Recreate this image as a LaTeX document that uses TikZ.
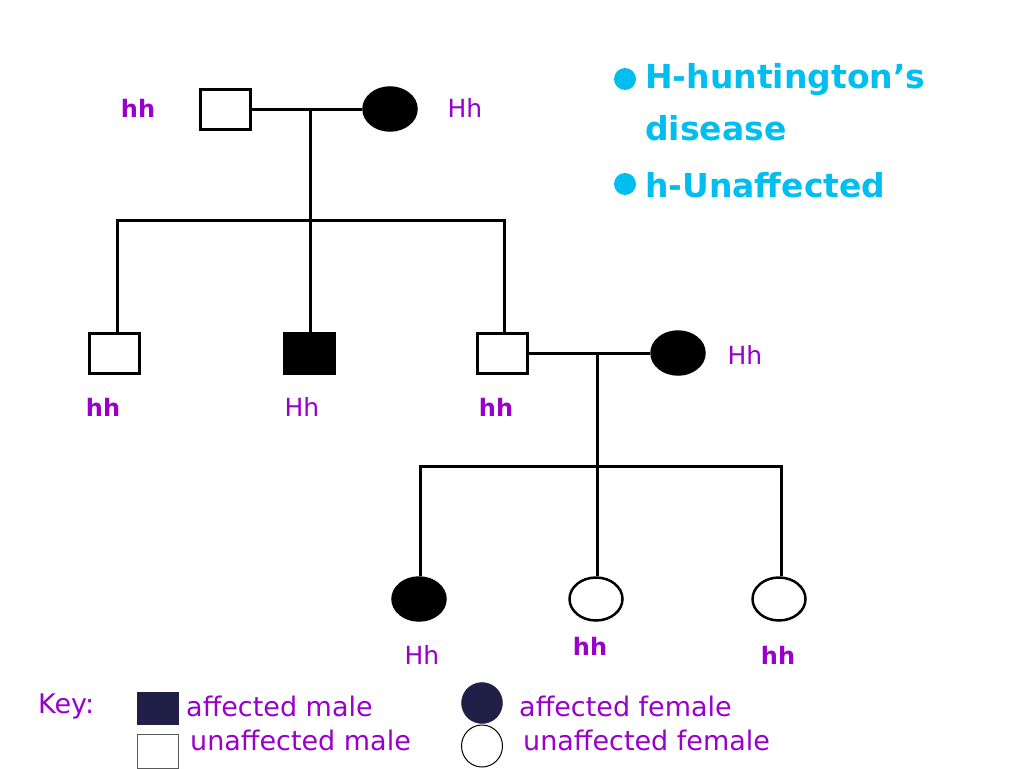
\documentclass[tikz,border=0pt]{standalone}
\usepackage{fontspec}
\setmainfont{DejaVu Sans}
\usetikzlibrary{shapes.geometric}
\definecolor{lbl}{RGB}{153,0,204}
\definecolor{cyanT}{RGB}{0,190,240}
\definecolor{navy}{RGB}{31,31,71}
\tikzset{
  male/.style={draw=black,line width=3pt,minimum width=50pt,minimum height=40pt,inner sep=0pt,fill=white},
  female/.style={ellipse,draw=black,line width=2.5pt,minimum width=53pt,minimum height=43pt,inner sep=0pt,fill=white},
  aff/.style={fill=black},
  link/.style={line width=3pt,black},
  geno/.style={text=lbl,font=\fontsize{25}{27}\selectfont,inner sep=0pt},
  genob/.style={geno,font=\fontsize{24}{26}\selectfont\bfseries},
  keytext/.style={text=lbl,font=\fontsize{27}{29}\selectfont,inner sep=0pt,anchor=west},
  bullettext/.style={text=cyanT,font=\fontsize{33}{36}\selectfont\bfseries,inner sep=0pt,anchor=west}
}
\begin{document}
\begin{tikzpicture}[x=1pt,y=-1pt]
\useasboundingbox[fill=white] (0,0) rectangle (1024,768);
% generation I
\node[male] (g1m) at (225,109) {};
\node[female,aff] (g1f) at (390,109) {};
\coordinate (m1) at (310,109);
\coordinate (s1) at (310,220);
\coordinate (s1l) at (117,220);
\coordinate (s1r) at (504,220);
\draw[link] (g1m.east) -- (g1f.west);
\draw[link] (m1) -- (s1);
\draw[link,line cap=rect] (s1l) -- (s1r);
% generation II
\node[male] (c1) at (114,353) {};
\node[male,aff] (c2) at (309,353) {};
\node[male] (c3) at (502,353) {};
\node[female,aff] (sp) at (678,353) {};
\draw[link] (s1l) -- (c1.north -| s1l);
\draw[link] (s1) -- (c2.north -| s1);
\draw[link] (s1r) -- (c3.north -| s1r);
\coordinate (m2) at (597,353);
\coordinate (s2) at (597,466);
\coordinate (s2l) at (420,466);
\coordinate (s2r) at (781,466);
\draw[link] (c3.east) -- (sp.west);
\draw[link] (m2) -- (s2);
\draw[link,line cap=rect] (s2l) -- (s2r);
% generation III
\node[female,aff] (d1) at (419,599) {};
\node[female] (d2) at (596,599) {};
\node[female] (d3) at (779,599) {};
\draw[link] (s2l) -- (d1.north -| s2l);
\draw[link] (s2) -- (d2.north -| s2);
\draw[link] (s2r) -- (d3.north -| s2r);
% genotypes
\node[genob] (l1) at (138,108) {hh};
\node[geno] (l2) at (465,108) {Hh};
\node[genob] (l3) at (103,407) {hh};
\node[geno] (l4) at (302,407) {Hh};
\node[genob] (l5) at (496,407) {hh};
\node[geno] (l6) at (745,355) {Hh};
\node[geno] (l7) at (422,655) {Hh};
\node[genob] (l8) at (590,646) {hh};
\node[genob] (l9) at (778,655) {hh};
% bullets
\node[circle,fill=cyanT,minimum size=22pt,inner sep=0pt] (b1) at (625,79) {};
\node[bullettext] (t1) at (645,80) {H-huntington’s};
\node[bullettext] (t2) at (645,128) {disease};
\node[circle,fill=cyanT,minimum size=22pt,inner sep=0pt] (b2) at (625,184) {};
\node[bullettext] (t3) at (645,185) {h-Unaffected};
% key
\node[keytext] (kk) at (38,706) {Key:};
\node[draw=navy,fill=navy,minimum width=41pt,minimum height=32pt,inner sep=0pt,line width=1pt] (k1) at (158,708) {};
\node[keytext] (k1t) at (186,706) {affected male};
\node[draw=gray!70!black,fill=white,minimum width=41pt,minimum height=34pt,inner sep=0pt,line width=1pt] (k2) at (158,751) {};
\node[keytext] (k2t) at (190,740) {unaffected male};
\node[ellipse,draw=navy,fill=navy,minimum width=41pt,minimum height=41pt,inner sep=0pt] (k3) at (482,703) {};
\node[keytext] (k3t) at (519,706) {affected female};
\node[ellipse,draw=black,fill=white,minimum width=41pt,minimum height=42pt,inner sep=0pt,line width=1pt] (k4) at (482,746) {};
\node[keytext] (k4t) at (523,740) {unaffected female};
\end{tikzpicture}
\end{document}
